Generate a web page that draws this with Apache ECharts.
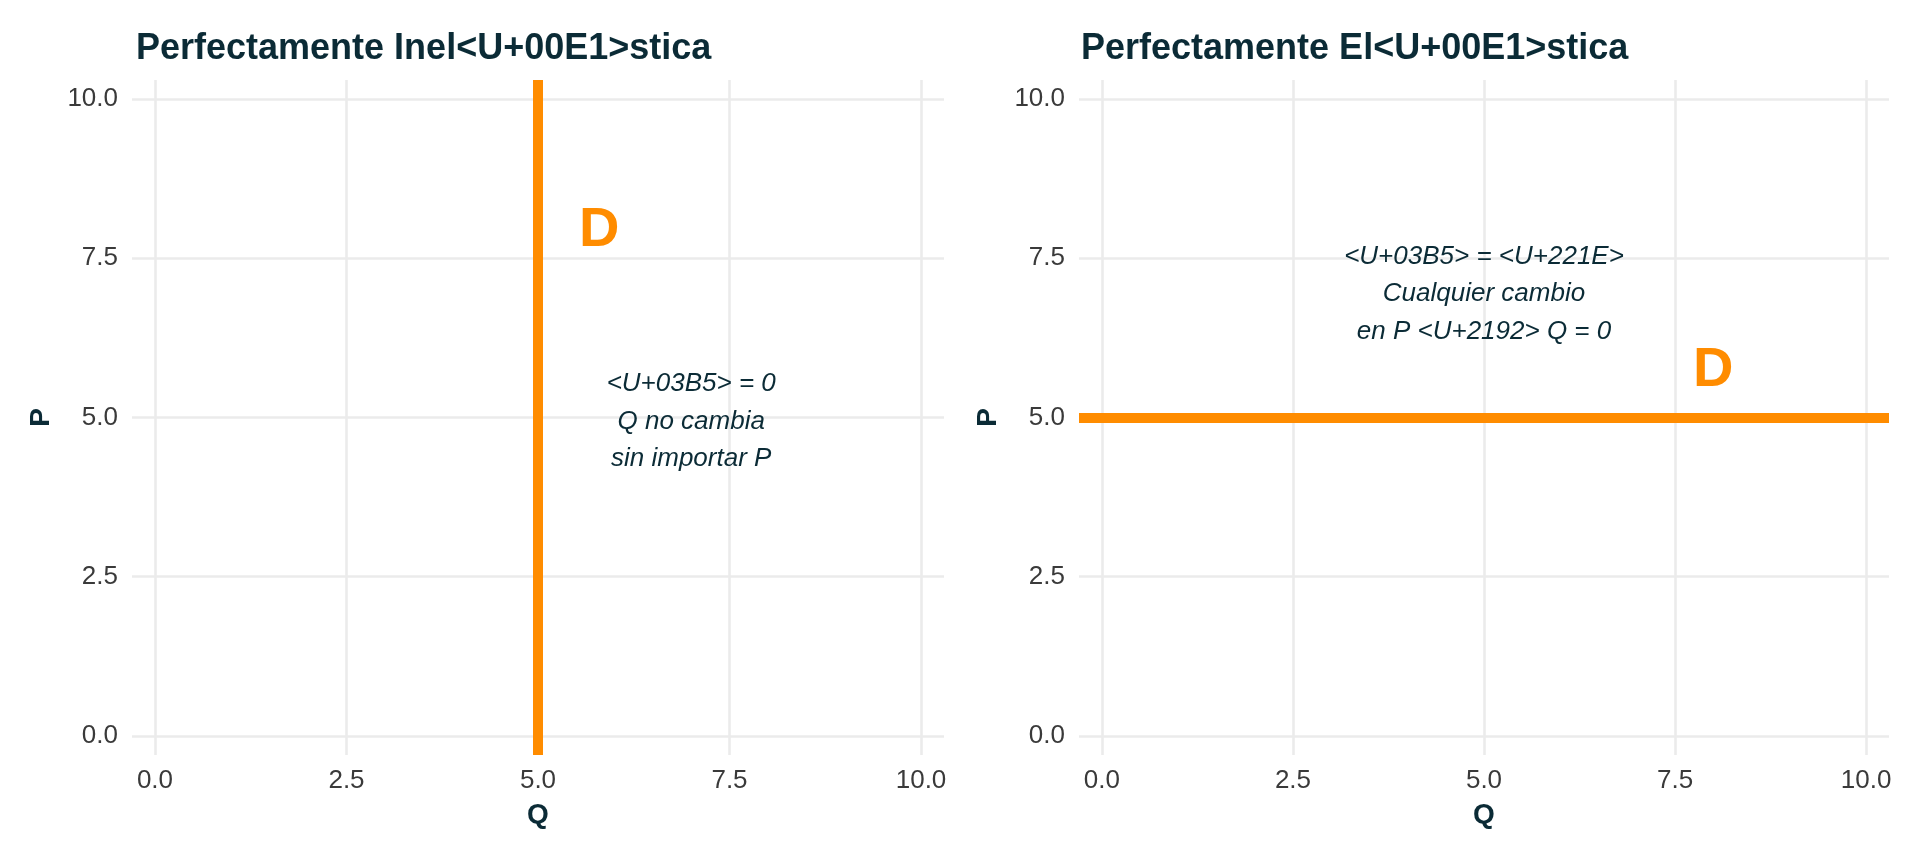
<!DOCTYPE html>
<html lang="es">
<head>
  <meta charset="UTF-8">
  <title>Elasticidad</title>
  <style>
    html, body { margin: 0; padding: 0; background: #fff; }
    #chart { width: 1920px; height: 864px; }
  </style>
</head>
<body>
  <div id="chart"></div>
  <script src="https://cdn.jsdelivr.net/npm/echarts@6/dist/echarts.min.js"></script>
  <script>
    // ticks shared by both panels
    const tickValues = [0, 2.5, 5, 7.5, 10];
    const axisMin = -0.3;
    const axisMax = 10.3;

    // panel titles
    const titles = ['Perfectamente Inel<U+00E1>stica', 'Perfectamente El<U+00E1>stica'];

    // demand lines: vertical at Q = 5 (left), horizontal at P = 5 (right)
    const inelasticQ = 5;
    const elasticP = 5;

    // "D" labels [Q, P]
    const dLabels = [[5.8, 8], [8, 5.8]];

    // annotations [Q, P, text]
    const notes = [
      [7, 5, '<U+03B5> = 0\nQ no cambia\nsin importar P'],
      [5, 7, '<U+03B5> = <U+221E>\nCualquier cambio\nen P <U+2192> Q = 0']
    ];

    const orange = '#FF8C00';
    const dark = '#0b2b36';
    const font = '"Liberation Sans", Arial, sans-serif';

    const chart = echarts.init(document.getElementById('chart'));

    function xAxisFor(i) {
      return {
        gridIndex: i, type: 'value', min: axisMin, max: axisMax,
        name: 'Q', nameLocation: 'middle', nameGap: 46,
        nameTextStyle: { fontFamily: font, fontWeight: 'bold', fontSize: 28, color: dark },
        axisLine: { show: false },
        axisTick: { show: false, customValues: tickValues },
        axisLabel: {
          customValues: tickValues, margin: 13, fontFamily: font, fontSize: 26, color: '#3a3a3a',
          formatter: v => v.toFixed(1)
        },
        splitLine: { show: true, lineStyle: { color: '#ebebeb', width: 2.6 } }
      };
    }
    function yAxisFor(i) {
      return {
        gridIndex: i, type: 'value', min: axisMin, max: axisMax,
        name: 'P', nameLocation: 'middle', nameGap: 77,
        nameTextStyle: { fontFamily: font, fontWeight: 'bold', fontSize: 28, color: dark },
        axisLine: { show: false },
        axisTick: { show: false, customValues: tickValues },
        axisLabel: {
          customValues: tickValues, margin: 14, fontFamily: font, fontSize: 26, color: '#3a3a3a',
          formatter: v => v.toFixed(1)
        },
        splitLine: { show: true, lineStyle: { color: '#ebebeb', width: 2.6 } }
      };
    }

    function textSeries(i, data, style) {
      return {
        type: 'scatter', xAxisIndex: i, yAxisIndex: i,
        symbolSize: 0, silent: true, z: 5,
        itemStyle: { opacity: 1 },
        data: data.map(d => ({ value: [d[0], d[1]], name: d[2] || 'D' })),
        label: Object.assign({
          show: true, position: 'inside', formatter: p => p.name,
          align: 'center', verticalAlign: 'middle', opacity: 1
        }, style)
      };
    }

    const dStyle = { fontFamily: font, fontWeight: 'bold', fontSize: 56, color: orange, offset: [0, 4] };
    const noteStyle = { fontFamily: font, fontStyle: 'italic', fontSize: 26, lineHeight: 37.5, color: dark, offset: [0, 4] };

    const option = {
      backgroundColor: '#ffffff',
      animation: false,
      title: titles.map((t, i) => ({
        text: t, left: i === 0 ? 136 : 1081, top: 31, padding: 0,
        textStyle: { fontFamily: font, fontWeight: 'bold', fontSize: 36, color: dark }
      })),
      grid: [
        { left: 132, top: 80, width: 812, height: 675, outerBoundsMode: 'none' },
        { left: 1079, top: 80, width: 810, height: 675, outerBoundsMode: 'none' }
      ],
      xAxis: [xAxisFor(0), xAxisFor(1)],
      yAxis: [yAxisFor(0), yAxisFor(1)],
      series: [
        {
          type: 'line', xAxisIndex: 0, yAxisIndex: 0, data: [],
          markLine: {
            silent: true, symbol: 'none', label: { show: false },
            lineStyle: { color: orange, width: 10, type: 'solid' },
            data: [{ xAxis: inelasticQ }]
          }
        },
        {
          type: 'line', xAxisIndex: 1, yAxisIndex: 1, data: [],
          markLine: {
            silent: true, symbol: 'none', label: { show: false },
            lineStyle: { color: orange, width: 10, type: 'solid' },
            data: [{ yAxis: elasticP }]
          }
        },
        textSeries(0, [dLabels[0]], dStyle),
        textSeries(1, [dLabels[1]], dStyle),
        textSeries(0, [notes[0]], noteStyle),
        textSeries(1, [notes[1]], noteStyle)
      ]
    };
    chart.setOption(option);
  </script>
</body>
</html>
